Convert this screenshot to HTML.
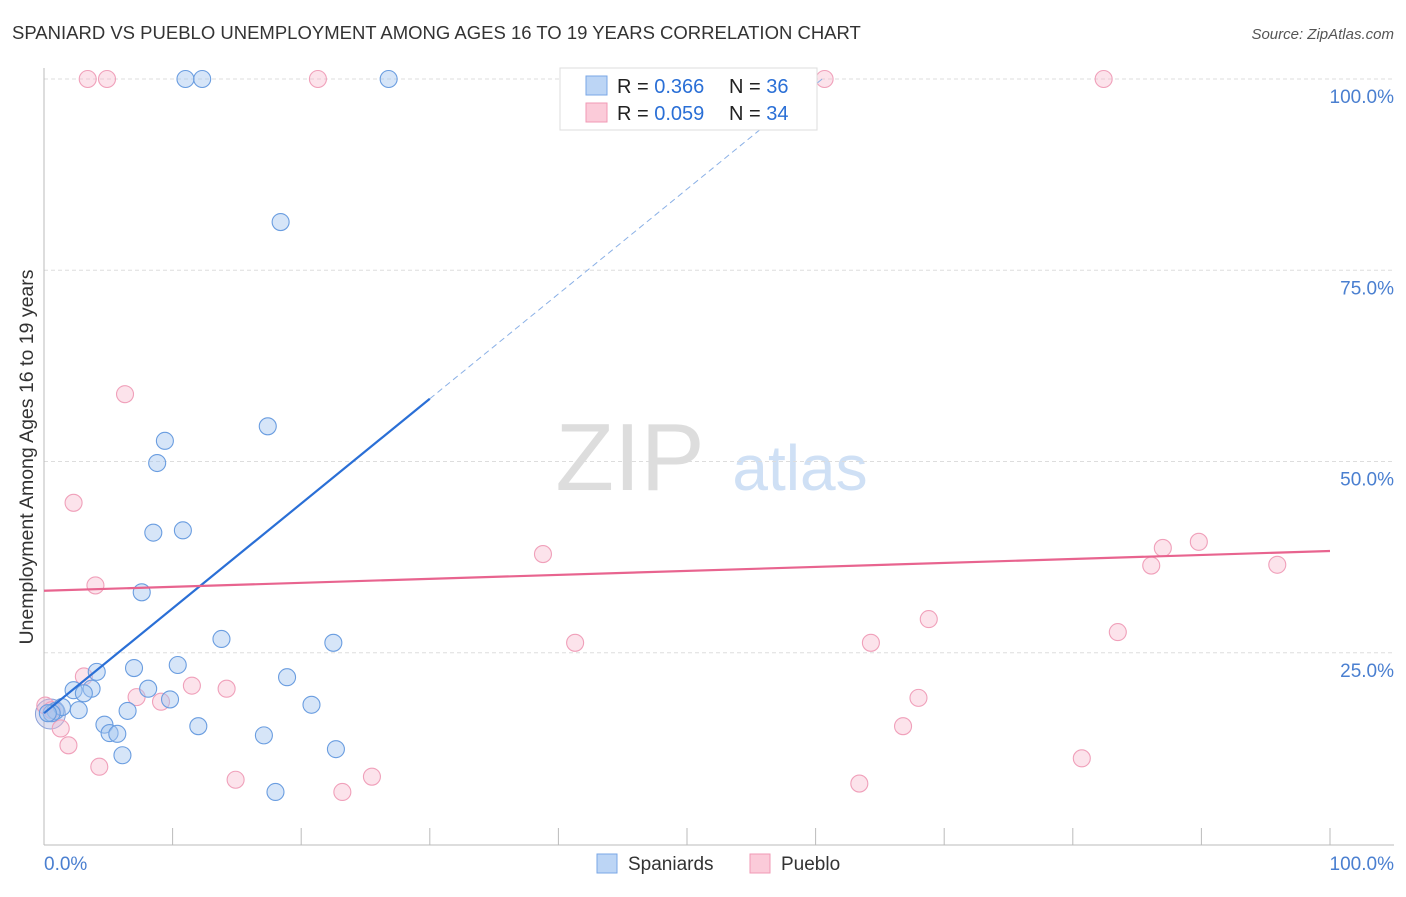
<!DOCTYPE html>
<html><head><meta charset="utf-8"><style>
body{margin:0;background:#fff;font-family:"Liberation Sans",sans-serif;}
svg text{font-family:"Liberation Sans",sans-serif;}
</style></head><body>
<svg id="chart" width="1406" height="892">
<text x="12" y="39" font-size="18.5" fill="#333">SPANIARD VS PUEBLO UNEMPLOYMENT AMONG AGES 16 TO 19 YEARS CORRELATION CHART</text>
<text x="1394" y="39" font-size="15" fill="#555" font-style="italic" text-anchor="end">Source: ZipAtlas.com</text>
<text x="33" y="457" font-size="19.5" fill="#333" text-anchor="middle" transform="rotate(-90 33 457)">Unemployment Among Ages 16 to 19 years</text>
<text x="630" y="490" font-size="96" fill="#ddd" font-family="Liberation Serif" text-anchor="middle">ZIP</text>
<text x="800" y="490" font-size="64" fill="#cfe0f5" text-anchor="middle">atlas</text>
<g id="grid"></g><g id="pts"></g><g id="lines"></g>
<g>
<rect x="560" y="68" width="257" height="62" fill="#fff" stroke="#ddd"/>
<rect x="586" y="76" width="21" height="19" fill="#bcd5f5" stroke="#7aa7e6"/>
<rect x="586" y="103" width="21" height="19" fill="#fbcbd9" stroke="#f09ab5"/>
<text x="617" y="93" font-size="20" fill="#222">R = <tspan fill="#2a6fd6">0.366</tspan><tspan x="729">N = </tspan><tspan fill="#2a6fd6">36</tspan></text>
<text x="617" y="120" font-size="20" fill="#222">R = <tspan fill="#2a6fd6">0.059</tspan><tspan x="729">N = </tspan><tspan fill="#2a6fd6">34</tspan></text>
</g>
<g>
<rect x="597" y="854" width="20" height="19" fill="#bcd5f5" stroke="#7aa7e6"/>
<text x="628" y="870" font-size="19" fill="#333">Spaniards</text>
<rect x="750" y="854" width="20" height="19" fill="#fbcbd9" stroke="#f09ab5"/>
<text x="781" y="870" font-size="19" fill="#333">Pueblo</text>
</g>
<text x="44" y="870" font-size="19" fill="#4a7fd0">0.0%</text>
<text x="1394" y="870" font-size="19" fill="#4a7fd0" text-anchor="end">100.0%</text>
</svg>
<script>
const yTicks=[25,50,75,100];
const yTickLabels=["25.0%","50.0%","75.0%","100.0%"];
const blueX=[11,12.3,26.8,18.4,9.4,8.8,17.4,8.5,10.8,7.6,13.8,22.5,7,10.4,4.1,18.9,8.1,2.3,3.7,3.1,9.8,20.8,2.7,6.5,0.9,1.4,0.6,4.7,5.1,5.7,12,17.1,6.1,22.7,18,0.3];
const blueY=[100,100,100,81.3,52.7,49.8,54.6,40.7,41,32.9,26.8,26.3,23,23.4,22.5,21.8,20.3,20.1,20.3,19.7,18.9,18.2,17.5,17.4,17.4,17.9,17.1,15.6,14.5,14.4,15.4,14.2,11.6,12.4,6.8,17.1];
const pinkX=[3.4,4.9,21.3,60.7,82.4,6.3,2.3,4,38.8,87,89.8,86.1,95.9,41.3,64.3,68.8,83.5,3.1,11.5,14.2,7.2,9.1,68,1.3,1.9,66.8,4.3,14.9,25.5,23.2,63.4,80.7,0.1,0.6];
const pinkY=[100,100,100,100,100,58.8,44.6,33.8,37.9,38.7,39.5,36.4,36.5,26.3,26.3,29.4,27.7,21.9,20.7,20.3,19.2,18.6,19.1,15.1,12.9,15.4,10.1,8.4,8.8,6.8,7.9,11.2,18.1,17.5];
const blueLine=[17.1,1.37,30,60.7];
const pinkLine=[33.1,38.3];
const X=v=>44+v*12.86, Y=v=>844-v*7.65;
const NS="http://www.w3.org/2000/svg";
function mk(tag,attrs,parent){const e=document.createElementNS(NS,tag);for(const k in attrs)e.setAttribute(k,attrs[k]);document.getElementById(parent).appendChild(e);return e;}
yTicks.forEach((t,i)=>{
 const l=mk('line',{x1:44,x2:1394,y1:Y(t),y2:Y(t),stroke:'#ddd','stroke-dasharray':'4,3'},'grid');
 
 
 const tx=mk('text',{x:1394,y:Y(t)+24,'font-size':19,fill:'#4a7fd0','text-anchor':'end'},'grid');
 tx.textContent=yTickLabels[i];
 
 
});
const ax=mk('line',{x1:44,x2:1394,y1:845,y2:845,stroke:'#bbb'},'grid');


const ay=mk('line',{x1:44,x2:44,y1:68,y2:845,stroke:'#bbb'},'grid');


for(let i=1;i<=10;i++){const t=mk('line',{x1:X(i*10),x2:X(i*10),y1:828,y2:845,stroke:'#bbb'},'grid');
 
 }
const big=mk('circle',{cx:X(0.5),cy:Y(17),r:15,fill:'rgba(160,170,220,0.35)',stroke:'#8aa0d8','stroke-width':1},'pts');


pinkX.forEach((v,i)=>{const c=mk('circle',{cx:X(v),cy:Y(pinkY[i]),r:8.5,fill:'rgba(248,185,205,0.4)',stroke:'#f0a0ba','stroke-width':1.1},'pts');
 
 });
blueX.forEach((v,i)=>{const c=mk('circle',{cx:X(v),cy:Y(blueY[i]),r:8.5,fill:'rgba(165,198,240,0.45)',stroke:'#6a9de0','stroke-width':1.1},'pts');
 
 });
const bl=mk('line',{x1:X(0),y1:Y(blueLine[0]),x2:X(blueLine[2]),y2:Y(blueLine[0]+blueLine[1]*blueLine[2]),stroke:'#2a6fd6','stroke-width':2.2},'lines');


const bd=mk('line',{x1:X(blueLine[2]),y1:Y(blueLine[0]+blueLine[1]*blueLine[2]),x2:X(blueLine[3]),y2:Y(blueLine[0]+blueLine[1]*blueLine[3]),stroke:'#8ab0e6','stroke-width':1,'stroke-dasharray':'6,4'},'lines');


const pl=mk('line',{x1:X(0),y1:Y(pinkLine[0]),x2:X(100),y2:Y(pinkLine[1]),stroke:'#e8648f','stroke-width':2.2},'lines');


</script>
</body></html>
